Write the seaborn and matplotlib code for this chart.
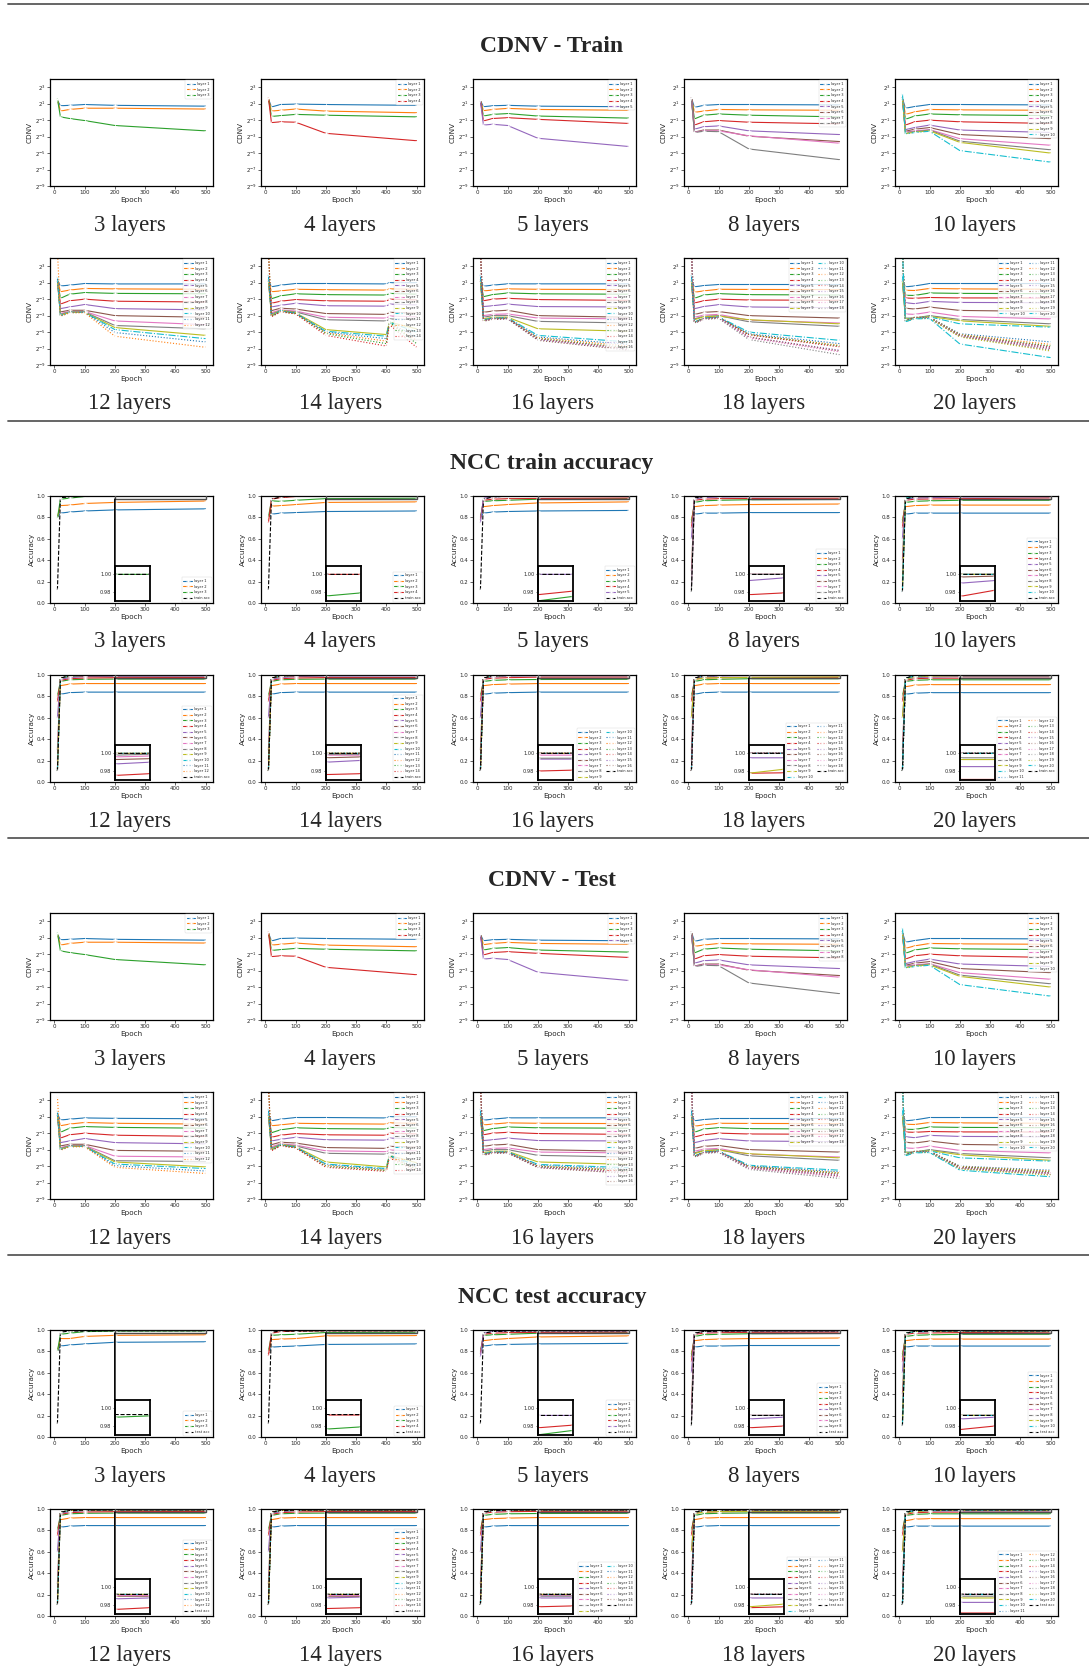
import matplotlib
matplotlib.use("Agg")
import matplotlib.pyplot as plt
import seaborn as sns
from matplotlib.patches import Rectangle, ConnectionPatch
from matplotlib.lines import Line2D
from matplotlib.ticker import FixedLocator, LogFormatterMathtext, NullLocator

# ---------------------------------------------------------------- data
depths = [3, 4, 5, 8, 10, 12, 14, 16, 18, 20]
section_titles = ["CDNV - Train", "NCC train accuracy", "CDNV - Test", "NCC test accuracy"]

epochs = [10, 20, 50, 100, 200, 500]
epochs_14 = [10, 20, 50, 100, 200, 400, 410, 500]

# CDNV values stored as base-2 exponents (value = 2**e), one row per layer
cdnv_train_3 = [[1.4, 0.75, 0.8, 0.9, 0.8, 0.7],
                [1.5, 0.1, 0.3, 0.45, 0.45, 0.35],
                [1.6, -0.6, -0.8, -1.05, -1.65, -2.3]]
cdnv_train_4 = [[1.6, 0.6, 0.9, 0.95, 0.9, 0.8],
                [1.7, 0.1, 0.2, 0.35, 0.1, -0.1],
                [1.7, -0.55, -0.45, -0.3, -0.4, -0.6],
                [1.7, -1.3, -1.2, -1.25, -2.6, -3.5]]
cdnv_train_5 = [[1.4, 0.63, 0.75, 0.8, 0.7, 0.63],
                [1.4, 0.15, 0.3, 0.43, 0.3, 0.2],
                [1.4, -0.5, -0.3, -0.2, -0.5, -0.75],
                [1.4, -1.1, -0.8, -0.7, -0.9, -1.4],
                [1.4, -1.6, -1.5, -1.65, -3.2, -4.2]]
cdnv_train_8 = [[1.7, 0.55, 0.8, 0.9, 0.9, 0.85],
                [1.7, -0.05, 0.1, 0.3, 0.25, 0.2],
                [1.7, -0.85, -0.4, -0.25, -0.4, -0.6],
                [1.7, -1.6, -1.2, -1.05, -1.25, -1.45],
                [1.7, -2.1, -1.8, -1.7, -2.3, -2.75],
                [1.7, -2.45, -2.2, -2.2, -2.95, -3.6],
                [1.7, -2.45, -2.3, -2.3, -2.9, -3.8],
                [1.7, -2.5, -2.35, -2.4, -4.5, -5.8]]
cdnv_train_10 = [[1.65, 0.45, 0.65, 0.9, 0.9, 0.85],
                 [1.7, -0.3, 0.0, 0.3, 0.25, 0.2],
                 [1.7, -0.9, -0.5, -0.25, -0.35, -0.45],
                 [1.7, -1.6, -1.2, -1.0, -1.2, -1.4],
                 [1.7, -2.15, -1.9, -1.6, -2.2, -2.5],
                 [1.7, -2.35, -2.1, -1.9, -2.75, -3.25],
                 [1.7, -2.45, -2.3, -2.15, -3.25, -4.05],
                 [1.7, -2.5, -2.4, -2.2, -3.55, -4.6],
                 [1.7, -2.65, -2.45, -2.3, -3.7, -5.0],
                 [2.25, -2.7, -2.5, -2.35, -4.7, -6.1]]
cdnv_train_12 = [[1.3, 0.6, 0.7, 0.9, 0.85, 0.85],
                 [1.3, -0.1, 0.1, 0.3, 0.25, 0.2],
                 [1.3, -0.9, -0.4, -0.2, -0.3, -0.35],
                 [1.3, -1.6, -1.2, -1.0, -1.25, -1.35],
                 [1.3, -2.15, -1.95, -1.65, -2.15, -2.3],
                 [1.3, -2.55, -2.35, -2.35, -3.0, -3.2],
                 [1.3, -2.75, -2.5, -2.5, -3.65, -4.1],
                 [1.3, -2.85, -2.55, -2.55, -4.2, -4.6],
                 [1.3, -2.95, -2.6, -2.6, -4.45, -5.4],
                 [1.8, -3.0, -2.6, -2.6, -4.7, -5.8],
                 [1.8, -3.05, -2.65, -2.6, -5.05, -6.2],
                 [5.0, -3.1, -2.65, -2.65, -5.5, -6.85]]
cdnv_train_14 = [[1.3, 0.5, 0.7, 0.9, 0.9, 0.85, 1.0, 1.0],
                 [1.3, -0.1, 0.0, 0.2, 0.15, 0.1, 0.25, 0.2],
                 [1.3, -0.95, -0.6, -0.35, -0.45, -0.5, -0.3, -0.4],
                 [1.3, -1.5, -1.25, -1.05, -1.2, -1.25, -1.0, -1.1],
                 [1.3, -1.95, -1.75, -1.5, -1.8, -1.85, -1.6, -1.7],
                 [1.3, -2.4, -2.1, -2.2, -2.75, -2.85, -2.6, -2.7],
                 [1.3, -2.65, -2.3, -2.45, -3.2, -3.3, -3.05, -3.15],
                 [1.3, -2.8, -2.4, -2.55, -3.5, -3.65, -3.4, -3.5],
                 [1.3, -2.95, -2.35, -2.65, -4.7, -5.3, -3.8, -4.6],
                 [2.0, -3.0, -2.4, -2.7, -4.9, -5.5, -3.8, -5.0],
                 [2.0, -3.05, -2.45, -2.7, -5.0, -5.8, -3.9, -5.6],
                 [5.0, -3.1, -2.5, -2.75, -5.1, -6.1, -4.0, -6.0],
                 [5.0, -3.1, -2.5, -2.75, -5.2, -6.4, -3.8, -6.4],
                 [5.0, -3.15, -2.55, -2.8, -5.4, -6.7, -4.1, -6.85]]
cdnv_train_16 = [[1.3, 0.57, 0.7, 0.86, 0.86, 0.86],
                 [1.3, 0.0, 0.1, 0.25, 0.2, 0.16],
                 [1.3, -0.7, -0.45, -0.25, -0.35, -0.4],
                 [1.3, -1.2, -1.0, -0.9, -1.05, -1.15],
                 [1.3, -1.9, -1.8, -1.6, -1.9, -1.95],
                 [1.3, -2.6, -2.45, -2.35, -3.0, -3.2],
                 [1.3, -3.0, -2.85, -2.8, -3.3, -3.4],
                 [1.3, -3.2, -3.0, -3.0, -3.7, -3.9],
                 [1.3, -3.4, -3.2, -3.2, -4.6, -4.9],
                 [2.0, -3.5, -3.3, -3.25, -5.4, -6.2],
                 [2.0, -3.55, -3.3, -3.3, -5.6, -6.5],
                 [5.0, -3.6, -3.35, -3.3, -5.7, -6.7],
                 [5.0, -3.6, -3.35, -3.35, -5.8, -6.9],
                 [5.0, -3.65, -3.4, -3.35, -5.85, -7.0],
                 [5.0, -3.65, -3.4, -3.4, -5.9, -7.1],
                 [5.0, -3.7, -3.45, -3.4, -6.0, -7.2]]
cdnv_train_18 = [[1.3, 0.5, 0.65, 0.78, 0.78, 0.78],
                 [1.3, -0.16, 0.0, 0.2, 0.18, 0.16],
                 [1.3, -0.9, -0.5, -0.33, -0.45, -0.5],
                 [1.3, -1.47, -1.2, -1.0, -1.1, -1.14],
                 [1.3, -2.16, -1.9, -1.67, -1.95, -2.04],
                 [1.3, -2.86, -2.6, -2.5, -3.0, -3.3],
                 [1.3, -3.2, -2.95, -2.85, -3.55, -3.9],
                 [1.3, -3.4, -3.1, -3.0, -3.75, -4.3],
                 [1.3, -3.5, -3.15, -3.05, -3.5, -4.0],
                 [2.0, -3.8, -3.3, -3.15, -5.0, -6.0],
                 [2.0, -3.8, -3.3, -3.2, -5.2, -6.4],
                 [5.0, -3.85, -3.35, -3.2, -5.3, -6.6],
                 [5.0, -3.85, -3.35, -3.2, -5.3, -6.7],
                 [5.0, -3.9, -3.35, -3.25, -5.35, -6.8],
                 [5.0, -3.9, -3.4, -3.25, -5.6, -7.2],
                 [5.0, -3.9, -3.4, -3.3, -5.6, -7.3],
                 [5.0, -3.95, -3.45, -3.3, -5.7, -7.4],
                 [5.0, -3.95, -3.45, -3.35, -5.9, -7.75]]
cdnv_train_20 = [[1.3, 0.5, 0.6, 0.9, 0.9, 0.9],
                 [1.3, 0.08, 0.05, 0.3, 0.25, 0.2],
                 [1.3, -0.53, -0.55, -0.25, -0.3, -0.33],
                 [1.3, -0.86, -0.9, -0.8, -0.85, -0.86],
                 [1.3, -1.43, -1.55, -1.27, -1.4, -1.43],
                 [1.3, -2.1, -2.2, -1.96, -2.37, -2.5],
                 [1.3, -2.8, -2.85, -2.57, -3.1, -3.4],
                 [1.3, -3.3, -3.3, -3.0, -3.47, -4.0],
                 [1.3, -3.4, -3.3, -3.1, -3.63, -4.3],
                 [2.0, -3.5, -3.3, -3.15, -4.0, -4.4],
                 [5.0, -3.6, -3.2, -3.2, -5.2, -6.2],
                 [5.0, -3.6, -3.2, -3.2, -5.3, -6.5],
                 [5.0, -3.6, -3.25, -3.2, -5.35, -6.7],
                 [5.0, -3.65, -3.25, -3.25, -5.4, -6.8],
                 [5.0, -3.65, -3.3, -3.25, -5.45, -6.9],
                 [5.0, -3.65, -3.3, -3.3, -5.5, -7.0],
                 [5.0, -3.7, -3.3, -3.3, -5.5, -7.1],
                 [5.0, -3.7, -3.35, -3.3, -5.55, -7.2],
                 [5.0, -3.7, -3.35, -3.35, -5.6, -7.3],
                 [5.0, -3.75, -3.4, -3.35, -6.45, -8.1]]

# test CDNV: the shallow nets read the same as the train curves
cdnv_test_3 = cdnv_train_3
cdnv_test_4 = cdnv_train_4
cdnv_test_5 = cdnv_train_5
cdnv_test_8 = cdnv_train_8
cdnv_test_10 = cdnv_train_10
cdnv_test_12 = [[1.3, 0.6, 0.7, 0.85, 0.8, 0.75],
                [1.3, -0.1, 0.1, 0.3, 0.2, 0.1],
                [1.3, -0.9, -0.4, -0.2, -0.3, -0.4],
                [1.3, -1.6, -1.2, -1.0, -1.25, -1.4],
                [1.3, -2.15, -1.95, -1.65, -2.15, -2.3],
                [1.3, -2.55, -2.35, -2.35, -3.1, -3.2],
                [1.3, -2.75, -2.5, -2.5, -3.8, -3.9],
                [1.3, -2.85, -2.55, -2.55, -4.35, -4.45],
                [1.3, -2.95, -2.6, -2.6, -4.5, -5.1],
                [1.8, -3.0, -2.6, -2.6, -4.75, -5.3],
                [1.8, -3.05, -2.65, -2.6, -4.95, -5.6],
                [3.5, -3.1, -2.65, -2.65, -5.15, -5.9]]
cdnv_test_14 = [[1.3, 0.5, 0.7, 0.9, 0.9, 0.85, 1.0, 1.0],
                [1.3, -0.1, 0.0, 0.2, 0.15, 0.1, 0.25, 0.2],
                [1.3, -0.95, -0.6, -0.35, -0.45, -0.5, -0.3, -0.4],
                [1.3, -1.5, -1.25, -1.05, -1.2, -1.25, -1.0, -1.1],
                [1.3, -1.95, -1.75, -1.5, -1.8, -1.85, -1.6, -1.7],
                [1.3, -2.4, -2.1, -2.2, -2.75, -2.85, -2.6, -2.7],
                [1.3, -2.65, -2.3, -2.45, -3.15, -3.25, -3.05, -3.15],
                [1.3, -2.8, -2.4, -2.55, -3.45, -3.55, -3.4, -3.5],
                [1.3, -2.95, -2.35, -2.65, -4.5, -5.1, -3.7, -4.6],
                [2.0, -3.0, -2.4, -2.7, -4.75, -5.3, -3.7, -4.9],
                [2.0, -3.05, -2.45, -2.7, -4.85, -5.4, -3.8, -5.1],
                [5.0, -3.1, -2.5, -2.75, -4.95, -5.5, -3.9, -5.3],
                [5.0, -3.1, -2.5, -2.75, -5.05, -5.55, -3.7, -5.4],
                [5.0, -3.15, -2.55, -2.8, -5.15, -5.65, -4.0, -5.6]]
cdnv_test_16 = [[1.3, 0.57, 0.7, 0.86, 0.86, 0.86],
                [1.3, 0.0, 0.1, 0.25, 0.2, 0.16],
                [1.3, -0.7, -0.45, -0.25, -0.35, -0.4],
                [1.3, -1.2, -1.0, -0.9, -1.05, -1.15],
                [1.3, -1.9, -1.8, -1.6, -1.9, -1.95],
                [1.3, -2.6, -2.45, -2.35, -3.0, -3.2],
                [1.3, -3.0, -2.85, -2.8, -3.3, -3.4],
                [1.3, -3.2, -3.0, -3.0, -3.7, -3.9],
                [1.3, -3.4, -3.2, -3.2, -4.5, -4.8],
                [2.0, -3.5, -3.3, -3.25, -4.8, -5.2],
                [2.0, -3.55, -3.3, -3.3, -4.9, -5.4],
                [5.0, -3.6, -3.35, -3.3, -5.0, -5.5],
                [5.0, -3.6, -3.35, -3.35, -5.05, -5.6],
                [5.0, -3.65, -3.4, -3.35, -5.1, -5.7],
                [5.0, -3.65, -3.4, -3.4, -5.15, -5.8],
                [5.0, -3.7, -3.45, -3.4, -5.2, -5.9]]
cdnv_test_18 = [[1.3, 0.5, 0.65, 0.78, 0.78, 0.78],
                [1.3, -0.16, 0.0, 0.2, 0.18, 0.16],
                [1.3, -0.9, -0.5, -0.33, -0.45, -0.5],
                [1.3, -1.47, -1.2, -1.0, -1.1, -1.14],
                [1.3, -2.16, -1.9, -1.67, -1.95, -2.04],
                [1.3, -2.86, -2.6, -2.5, -3.0, -3.3],
                [1.3, -3.2, -2.95, -2.85, -3.55, -3.9],
                [1.3, -3.4, -3.1, -3.0, -3.75, -4.3],
                [1.3, -3.5, -3.15, -3.05, -3.5, -4.0],
                [2.0, -3.8, -3.3, -3.15, -4.9, -5.5],
                [2.0, -3.8, -3.3, -3.2, -5.0, -5.7],
                [5.0, -3.85, -3.35, -3.2, -5.05, -5.8],
                [5.0, -3.85, -3.35, -3.2, -5.1, -5.9],
                [5.0, -3.9, -3.35, -3.25, -5.15, -6.0],
                [5.0, -3.9, -3.4, -3.25, -5.2, -6.1],
                [5.0, -3.9, -3.4, -3.3, -5.25, -6.2],
                [5.0, -3.95, -3.45, -3.3, -5.3, -6.3],
                [5.0, -3.95, -3.45, -3.35, -5.4, -6.5]]
cdnv_test_20 = [[1.3, 0.5, 0.6, 0.9, 0.9, 0.9],
                [1.3, 0.08, 0.05, 0.3, 0.25, 0.2],
                [1.3, -0.53, -0.55, -0.25, -0.3, -0.33],
                [1.3, -0.86, -0.9, -0.8, -0.85, -0.86],
                [1.3, -1.43, -1.55, -1.27, -1.4, -1.43],
                [1.3, -2.1, -2.2, -1.96, -2.37, -2.5],
                [1.3, -2.8, -2.85, -2.57, -3.1, -3.4],
                [1.3, -3.3, -3.3, -3.0, -3.47, -4.0],
                [1.3, -3.4, -3.3, -3.1, -3.63, -4.3],
                [2.0, -3.5, -3.3, -3.15, -4.0, -4.4],
                [5.0, -3.6, -3.2, -3.2, -5.0, -5.5],
                [5.0, -3.6, -3.2, -3.2, -5.05, -5.6],
                [5.0, -3.6, -3.25, -3.2, -5.1, -5.7],
                [5.0, -3.65, -3.25, -3.25, -5.15, -5.8],
                [5.0, -3.65, -3.3, -3.25, -5.2, -5.85],
                [5.0, -3.65, -3.3, -3.3, -5.25, -5.9],
                [5.0, -3.7, -3.3, -3.3, -5.3, -6.0],
                [5.0, -3.7, -3.35, -3.3, -5.3, -6.05],
                [5.0, -3.7, -3.35, -3.35, -5.35, -6.1],
                [5.0, -3.75, -3.4, -3.35, -5.5, -6.3]]

# NCC accuracy, one row per layer, plus the network's own accuracy
acc_train_3 = [[0.8, 0.84, 0.85, 0.86, 0.87, 0.88],
               [0.8, 0.91, 0.915, 0.93, 0.94, 0.953],
               [0.79, 0.97, 0.98, 0.995, 1.0, 1.0]]
net_train_3 = [0.12, 0.985, 0.99, 1.0, 1.0, 1.0]
acc_train_4 = [[0.8, 0.83, 0.84, 0.845, 0.855, 0.86],
               [0.78, 0.905, 0.91, 0.92, 0.94, 0.945],
               [0.8, 0.955, 0.95, 0.96, 0.9755, 0.979],
               [0.75, 0.97, 0.985, 0.995, 1.0, 1.0]]
net_train_4 = [0.12, 0.97, 0.99, 1.0, 1.0, 1.0]
acc_train_5 = [[0.8, 0.84, 0.85, 0.855, 0.86, 0.865],
               [0.8, 0.9, 0.91, 0.92, 0.935, 0.945],
               [0.8, 0.95, 0.955, 0.96, 0.97, 0.975],
               [0.78, 0.96, 0.97, 0.975, 0.977, 0.981],
               [0.75, 0.98, 0.99, 1.0, 1.0, 1.0]]
net_train_5 = [0.12, 0.97, 0.99, 1.0, 1.0, 1.0]
acc_train_8 = [[0.78, 0.83, 0.84, 0.84, 0.845, 0.845],
               [0.78, 0.9, 0.91, 0.915, 0.92, 0.925],
               [0.75, 0.94, 0.955, 0.96, 0.965, 0.968],
               [0.7, 0.96, 0.97, 0.975, 0.977, 0.979],
               [0.6, 0.97, 0.985, 0.99, 0.993, 0.996],
               [0.3, 0.98, 0.995, 1.0, 1.0, 1.0],
               [0.15, 0.98, 0.995, 1.0, 1.0, 1.0],
               [0.12, 0.98, 0.995, 1.0, 1.0, 1.0]]
net_train_8 = [0.1, 0.98, 0.995, 1.0, 1.0, 1.0]
acc_train_10 = [[0.78, 0.83, 0.84, 0.84, 0.84, 0.84],
                [0.78, 0.9, 0.91, 0.915, 0.915, 0.915],
                [0.75, 0.94, 0.95, 0.955, 0.96, 0.96],
                [0.7, 0.96, 0.97, 0.972, 0.975, 0.982],
                [0.6, 0.97, 0.98, 0.985, 0.99, 0.993],
                [0.4, 0.98, 0.99, 0.995, 0.997, 0.998],
                [0.2, 0.98, 0.995, 1.0, 1.0, 1.0],
                [0.15, 0.98, 0.995, 1.0, 1.0, 1.0],
                [0.12, 0.98, 0.995, 1.0, 1.0, 1.0],
                [0.1, 0.98, 0.995, 1.0, 1.0, 1.0]]
net_train_10 = [0.1, 0.97, 0.995, 1.0, 1.0, 1.0]
acc_train_12 = [[0.78, 0.82, 0.835, 0.84, 0.84, 0.84],
                [0.8, 0.9, 0.915, 0.92, 0.92, 0.92],
                [0.8, 0.94, 0.955, 0.96, 0.962, 0.962],
                [0.75, 0.95, 0.965, 0.972, 0.975, 0.977],
                [0.6, 0.96, 0.975, 0.985, 0.988, 0.99],
                [0.3, 0.97, 0.985, 0.99, 0.993, 0.994],
                [0.2, 0.97, 0.99, 0.995, 0.996, 0.997],
                [0.12, 0.97, 0.99, 0.997, 0.998, 0.999],
                [0.1, 0.97, 0.99, 0.998, 1.0, 1.0],
                [0.1, 0.97, 0.99, 0.998, 1.0, 1.0],
                [0.1, 0.97, 0.99, 0.998, 1.0, 1.0],
                [0.1, 0.97, 0.99, 0.998, 1.0, 1.0]]
net_train_12 = [0.1, 0.97, 0.995, 1.0, 1.0, 1.0]
acc_train_14 = [[0.78, 0.82, 0.835, 0.84, 0.84, 0.84],
                [0.8, 0.9, 0.915, 0.92, 0.92, 0.92],
                [0.8, 0.94, 0.955, 0.96, 0.962, 0.962],
                [0.75, 0.95, 0.965, 0.972, 0.976, 0.977],
                [0.6, 0.96, 0.975, 0.985, 0.99, 0.992],
                [0.3, 0.97, 0.985, 0.99, 0.995, 0.996],
                [0.2, 0.97, 0.99, 0.995, 0.998, 0.998],
                [0.12, 0.97, 0.99, 0.997, 0.999, 0.999],
                [0.1, 0.97, 0.99, 0.998, 1.0, 1.0],
                [0.1, 0.97, 0.99, 0.998, 1.0, 1.0],
                [0.1, 0.97, 0.99, 0.998, 1.0, 1.0],
                [0.1, 0.97, 0.99, 0.998, 1.0, 1.0],
                [0.1, 0.97, 0.99, 0.998, 1.0, 1.0],
                [0.1, 0.97, 0.99, 0.998, 1.0, 1.0]]
net_train_14 = [0.1, 0.97, 0.995, 1.0, 1.0, 1.0]
acc_train_16 = [[0.78, 0.82, 0.83, 0.835, 0.84, 0.84],
                [0.8, 0.9, 0.91, 0.915, 0.92, 0.92],
                [0.8, 0.94, 0.95, 0.955, 0.958, 0.96],
                [0.75, 0.96, 0.97, 0.975, 0.98, 0.981],
                [0.6, 0.97, 0.98, 0.99, 0.9935, 0.9935],
                [0.3, 0.97, 0.99, 0.998, 1.0, 1.0],
                [0.2, 0.97, 0.99, 0.995, 0.998, 0.998],
                [0.12, 0.97, 0.99, 0.993, 0.9945, 0.9945],
                [0.1, 0.97, 0.99, 0.998, 1.0, 1.0],
                [0.1, 0.97, 0.99, 0.998, 1.0, 1.0],
                [0.1, 0.97, 0.99, 0.998, 1.0, 1.0],
                [0.1, 0.97, 0.99, 0.998, 1.0, 1.0],
                [0.1, 0.97, 0.99, 0.998, 1.0, 1.0],
                [0.1, 0.97, 0.99, 0.998, 1.0, 1.0],
                [0.1, 0.97, 0.99, 0.998, 1.0, 1.0],
                [0.1, 0.97, 0.99, 0.998, 1.0, 1.0]]
net_train_16 = [0.1, 0.97, 0.995, 1.0, 1.0, 1.0]
acc_train_18 = [[0.78, 0.82, 0.835, 0.84, 0.84, 0.84],
                [0.8, 0.9, 0.915, 0.92, 0.92, 0.92],
                [0.8, 0.94, 0.955, 0.96, 0.965, 0.965],
                [0.75, 0.96, 0.97, 0.975, 0.9775, 0.978],
                [0.6, 0.97, 0.98, 0.99, 0.995, 0.995],
                [0.3, 0.97, 0.99, 0.998, 1.0, 1.0],
                [0.2, 0.97, 0.99, 0.998, 1.0, 1.0],
                [0.12, 0.97, 0.99, 0.998, 1.0, 1.0],
                [0.6, 0.96, 0.97, 0.975, 0.9775, 0.982],
                [0.1, 0.97, 0.99, 0.998, 1.0, 1.0],
                [0.1, 0.97, 0.99, 0.998, 1.0, 1.0],
                [0.1, 0.97, 0.99, 0.998, 1.0, 1.0],
                [0.1, 0.97, 0.99, 0.998, 1.0, 1.0],
                [0.1, 0.97, 0.99, 0.998, 1.0, 1.0],
                [0.1, 0.97, 0.99, 0.998, 1.0, 1.0],
                [0.1, 0.97, 0.99, 0.998, 1.0, 1.0],
                [0.1, 0.97, 0.99, 0.998, 1.0, 1.0],
                [0.1, 0.97, 0.99, 0.998, 1.0, 1.0]]
net_train_18 = [0.1, 0.97, 0.995, 1.0, 1.0, 1.0]
acc_train_20 = [[0.78, 0.82, 0.83, 0.835, 0.835, 0.835],
                [0.8, 0.89, 0.905, 0.91, 0.91, 0.91],
                [0.8, 0.94, 0.95, 0.955, 0.955, 0.955],
                [0.75, 0.95, 0.965, 0.97, 0.9705, 0.9705],
                [0.6, 0.96, 0.975, 0.98, 0.985, 0.985],
                [0.3, 0.97, 0.99, 0.998, 1.0, 1.0],
                [0.2, 0.97, 0.99, 0.998, 1.0, 1.0],
                [0.12, 0.97, 0.99, 0.993, 0.995, 0.995],
                [0.6, 0.96, 0.98, 0.99, 0.993, 0.993],
                [0.1, 0.97, 0.99, 0.998, 1.0, 1.0],
                [0.1, 0.97, 0.99, 0.998, 1.0, 1.0],
                [0.1, 0.97, 0.99, 0.998, 1.0, 1.0],
                [0.1, 0.97, 0.99, 0.998, 1.0, 1.0],
                [0.1, 0.97, 0.99, 0.998, 1.0, 1.0],
                [0.1, 0.97, 0.99, 0.998, 1.0, 1.0],
                [0.1, 0.97, 0.99, 0.998, 1.0, 1.0],
                [0.1, 0.97, 0.99, 0.998, 1.0, 1.0],
                [0.1, 0.97, 0.99, 0.998, 1.0, 1.0],
                [0.1, 0.97, 0.99, 0.998, 1.0, 1.0],
                [0.1, 0.97, 0.99, 0.998, 1.0, 1.0]]
net_train_20 = [0.1, 0.97, 0.995, 1.0, 1.0, 1.0]

acc_test_3 = [[0.8, 0.85, 0.86, 0.87, 0.885, 0.89],
              [0.8, 0.92, 0.92, 0.94, 0.95, 0.955],
              [0.8, 0.96, 0.97, 0.985, 0.99, 0.9915]]
net_test_3 = [0.12, 0.98, 0.99, 0.99, 0.993, 0.993]
acc_test_4 = [[0.78, 0.84, 0.845, 0.85, 0.865, 0.87],
              [0.78, 0.91, 0.915, 0.92, 0.945, 0.948],
              [0.8, 0.95, 0.955, 0.96, 0.9765, 0.979],
              [0.76, 0.97, 0.985, 0.99, 0.9925, 0.9925]]
net_test_4 = [0.12, 0.98, 0.99, 0.99, 0.993, 0.993]
acc_test_5 = [[0.8, 0.85, 0.86, 0.865, 0.87, 0.875],
              [0.8, 0.9, 0.91, 0.92, 0.935, 0.945],
              [0.8, 0.95, 0.955, 0.96, 0.97, 0.975],
              [0.78, 0.96, 0.97, 0.975, 0.978, 0.981],
              [0.75, 0.97, 0.985, 0.99, 0.992, 0.992]]
net_test_5 = [0.12, 0.97, 0.985, 0.99, 0.992, 0.992]
acc_test_8 = [[0.78, 0.84, 0.85, 0.85, 0.855, 0.855],
              [0.78, 0.9, 0.91, 0.915, 0.92, 0.925],
              [0.75, 0.94, 0.955, 0.96, 0.965, 0.968],
              [0.7, 0.96, 0.97, 0.975, 0.978, 0.98],
              [0.6, 0.97, 0.98, 0.985, 0.988, 0.99],
              [0.3, 0.97, 0.985, 0.99, 0.992, 0.992],
              [0.15, 0.97, 0.985, 0.99, 0.992, 0.992],
              [0.12, 0.97, 0.985, 0.99, 0.992, 0.992]]
net_test_8 = [0.1, 0.97, 0.985, 0.99, 0.992, 0.992]
acc_test_10 = [[0.78, 0.84, 0.85, 0.85, 0.85, 0.85],
               [0.78, 0.9, 0.91, 0.915, 0.915, 0.915],
               [0.75, 0.94, 0.95, 0.955, 0.96, 0.96],
               [0.7, 0.96, 0.97, 0.972, 0.976, 0.98],
               [0.6, 0.97, 0.98, 0.985, 0.988, 0.99],
               [0.4, 0.97, 0.985, 0.99, 0.992, 0.992],
               [0.2, 0.97, 0.985, 0.99, 0.992, 0.992],
               [0.15, 0.97, 0.985, 0.99, 0.992, 0.992],
               [0.12, 0.97, 0.985, 0.99, 0.992, 0.992],
               [0.1, 0.97, 0.985, 0.99, 0.992, 0.992]]
net_test_10 = [0.1, 0.97, 0.985, 0.99, 0.992, 0.992]
acc_test_12 = [[0.78, 0.83, 0.84, 0.845, 0.845, 0.845],
               [0.8, 0.9, 0.915, 0.92, 0.92, 0.92],
               [0.8, 0.94, 0.955, 0.96, 0.962, 0.962],
               [0.75, 0.95, 0.965, 0.972, 0.975, 0.977],
               [0.6, 0.96, 0.975, 0.985, 0.987, 0.988],
               [0.3, 0.97, 0.98, 0.988, 0.99, 0.99],
               [0.2, 0.97, 0.985, 0.99, 0.991, 0.991],
               [0.12, 0.97, 0.985, 0.99, 0.992, 0.992],
               [0.1, 0.97, 0.985, 0.99, 0.992, 0.992],
               [0.1, 0.97, 0.985, 0.99, 0.992, 0.992],
               [0.1, 0.97, 0.985, 0.99, 0.992, 0.992],
               [0.1, 0.97, 0.985, 0.99, 0.992, 0.992]]
net_test_12 = [0.1, 0.97, 0.985, 0.99, 0.992, 0.992]
acc_test_14 = [[0.78, 0.83, 0.84, 0.845, 0.845, 0.845],
               [0.8, 0.9, 0.915, 0.92, 0.92, 0.92],
               [0.8, 0.94, 0.955, 0.96, 0.962, 0.962],
               [0.75, 0.95, 0.965, 0.972, 0.976, 0.977],
               [0.6, 0.96, 0.975, 0.985, 0.988, 0.989],
               [0.3, 0.97, 0.98, 0.988, 0.99, 0.99],
               [0.2, 0.97, 0.985, 0.99, 0.991, 0.991],
               [0.12, 0.97, 0.985, 0.99, 0.992, 0.992],
               [0.1, 0.97, 0.985, 0.99, 0.992, 0.992],
               [0.1, 0.97, 0.985, 0.99, 0.992, 0.992],
               [0.1, 0.97, 0.985, 0.99, 0.992, 0.992],
               [0.1, 0.97, 0.985, 0.99, 0.992, 0.992],
               [0.1, 0.97, 0.985, 0.99, 0.992, 0.992],
               [0.1, 0.97, 0.985, 0.99, 0.992, 0.992]]
net_test_14 = [0.1, 0.97, 0.985, 0.99, 0.992, 0.992]
acc_test_16 = [[0.78, 0.83, 0.84, 0.845, 0.845, 0.845],
               [0.8, 0.9, 0.91, 0.915, 0.92, 0.92],
               [0.8, 0.94, 0.95, 0.955, 0.958, 0.96],
               [0.75, 0.96, 0.97, 0.975, 0.978, 0.979],
               [0.6, 0.97, 0.98, 0.985, 0.988, 0.988],
               [0.3, 0.97, 0.985, 0.99, 0.992, 0.992],
               [0.2, 0.97, 0.985, 0.99, 0.991, 0.991],
               [0.12, 0.97, 0.985, 0.99, 0.99, 0.99],
               [0.1, 0.97, 0.985, 0.99, 0.992, 0.992],
               [0.1, 0.97, 0.985, 0.99, 0.992, 0.992],
               [0.1, 0.97, 0.985, 0.99, 0.992, 0.992],
               [0.1, 0.97, 0.985, 0.99, 0.992, 0.992],
               [0.1, 0.97, 0.985, 0.99, 0.992, 0.992],
               [0.1, 0.97, 0.985, 0.99, 0.992, 0.992],
               [0.1, 0.97, 0.985, 0.99, 0.992, 0.992],
               [0.1, 0.97, 0.985, 0.99, 0.992, 0.992]]
net_test_16 = [0.1, 0.97, 0.985, 0.99, 0.992, 0.992]
acc_test_18 = [[0.78, 0.83, 0.84, 0.845, 0.845, 0.845],
               [0.8, 0.9, 0.915, 0.92, 0.92, 0.92],
               [0.8, 0.94, 0.955, 0.96, 0.963, 0.963],
               [0.75, 0.96, 0.97, 0.975, 0.977, 0.978],
               [0.6, 0.97, 0.98, 0.985, 0.988, 0.988],
               [0.3, 0.97, 0.985, 0.99, 0.992, 0.992],
               [0.2, 0.97, 0.985, 0.99, 0.992, 0.992],
               [0.12, 0.97, 0.985, 0.99, 0.992, 0.992],
               [0.6, 0.96, 0.97, 0.975, 0.978, 0.981],
               [0.1, 0.97, 0.985, 0.99, 0.992, 0.992],
               [0.1, 0.97, 0.985, 0.99, 0.992, 0.992],
               [0.1, 0.97, 0.985, 0.99, 0.992, 0.992],
               [0.1, 0.97, 0.985, 0.99, 0.992, 0.992],
               [0.1, 0.97, 0.985, 0.99, 0.992, 0.992],
               [0.1, 0.97, 0.985, 0.99, 0.992, 0.992],
               [0.1, 0.97, 0.985, 0.99, 0.992, 0.992],
               [0.1, 0.97, 0.985, 0.99, 0.992, 0.992],
               [0.1, 0.97, 0.985, 0.99, 0.992, 0.992]]
net_test_18 = [0.1, 0.97, 0.985, 0.99, 0.992, 0.992]
acc_test_20 = [[0.78, 0.83, 0.84, 0.84, 0.84, 0.84],
               [0.8, 0.89, 0.905, 0.91, 0.91, 0.91],
               [0.8, 0.94, 0.95, 0.955, 0.955, 0.955],
               [0.75, 0.95, 0.965, 0.97, 0.971, 0.971],
               [0.6, 0.96, 0.975, 0.98, 0.983, 0.983],
               [0.3, 0.97, 0.985, 0.99, 0.992, 0.992],
               [0.2, 0.97, 0.985, 0.99, 0.992, 0.992],
               [0.12, 0.97, 0.985, 0.99, 0.99, 0.99],
               [0.6, 0.96, 0.975, 0.985, 0.988, 0.988],
               [0.1, 0.97, 0.985, 0.99, 0.992, 0.992],
               [0.1, 0.97, 0.985, 0.99, 0.992, 0.992],
               [0.1, 0.97, 0.985, 0.99, 0.992, 0.992],
               [0.1, 0.97, 0.985, 0.99, 0.992, 0.992],
               [0.1, 0.97, 0.985, 0.99, 0.992, 0.992],
               [0.1, 0.97, 0.985, 0.99, 0.992, 0.992],
               [0.1, 0.97, 0.985, 0.99, 0.992, 0.992],
               [0.1, 0.97, 0.985, 0.99, 0.992, 0.992],
               [0.1, 0.97, 0.985, 0.99, 0.992, 0.992],
               [0.1, 0.97, 0.985, 0.99, 0.992, 0.992],
               [0.1, 0.97, 0.985, 0.99, 0.992, 0.992]]
net_test_20 = [0.1, 0.97, 0.985, 0.99, 0.992, 0.992]

cdnv_train = [cdnv_train_3, cdnv_train_4, cdnv_train_5, cdnv_train_8, cdnv_train_10,
              cdnv_train_12, cdnv_train_14, cdnv_train_16, cdnv_train_18, cdnv_train_20]
cdnv_test = [cdnv_test_3, cdnv_test_4, cdnv_test_5, cdnv_test_8, cdnv_test_10,
             cdnv_test_12, cdnv_test_14, cdnv_test_16, cdnv_test_18, cdnv_test_20]
acc_train = [acc_train_3, acc_train_4, acc_train_5, acc_train_8, acc_train_10,
             acc_train_12, acc_train_14, acc_train_16, acc_train_18, acc_train_20]
net_train = [net_train_3, net_train_4, net_train_5, net_train_8, net_train_10,
             net_train_12, net_train_14, net_train_16, net_train_18, net_train_20]
acc_test = [acc_test_3, acc_test_4, acc_test_5, acc_test_8, acc_test_10,
            acc_test_12, acc_test_14, acc_test_16, acc_test_18, acc_test_20]
net_test = [net_test_3, net_test_4, net_test_5, net_test_8, net_test_10,
            net_test_12, net_test_14, net_test_16, net_test_18, net_test_20]

# ---------------------------------------------------------------- style
sns.set_theme(style="ticks")
plt.rcParams["font.family"] = ["DejaVu Sans"]
plt.rcParams["axes.edgecolor"] = "black"
plt.rcParams["axes.linewidth"] = 0.9
palette = sns.color_palette("tab10", 10)
SERIF = ["Liberation Serif", "DejaVu Serif"]

W, H = 1089, 1669
fig = plt.figure(figsize=(W / 100, H / 100), dpi=100)

col_left = [50, 261, 473, 684, 895]
AX_W, AX_H = 163, 107
sec_top = [79, 496, 913, 1330]
ROW_STEP = 179


def line_style(i):
    if i < 9:
        return "-"
    return "-." if i % 10 == 9 else ":"


def add_ax(x, y):
    return fig.add_axes([x / W, 1 - (y + AX_H) / H, AX_W / W, AX_H / H])


def finish_axes(ax):
    ax.tick_params(labelsize=4, length=2, width=0.5, pad=1.2)
    ax.set_xlabel("Epoch", fontsize=5.2, labelpad=0.8)
    ax.set_xticks([0, 100, 200, 300, 400, 500])
    ax.set_xlim(-14.5, 524.5)
    for s in ax.spines.values():
        s.set_visible(True)
        s.set_color("black")
        s.set_linewidth(0.9)


def legend(ax, loc, ncol):
    lg = ax.legend(loc=loc, ncol=ncol, fontsize=2.6, handlelength=2.4, borderpad=0.45,
                   labelspacing=0.45, handletextpad=0.6, columnspacing=1.2,
                   frameon=True, fancybox=True, borderaxespad=0.4)
    lg.get_frame().set_linewidth(0.3)
    lg.get_frame().set_edgecolor("0.8")


def draw_cdnv(ax, rows, depth):
    ep = epochs_14 if depth == 14 else epochs
    ax.set_yscale("log", base=2)
    for i, row in enumerate(rows):
        sns.lineplot(x=ep, y=[2.0 ** v for v in row], ax=ax, color=palette[i % 10],
                     linestyle=line_style(i), linewidth=0.8, marker="+", markersize=2.5,
                     markeredgewidth=0.5, label=f"layer {i + 1}", estimator=None)
    ax.set_ylim(2.0 ** -9, 2.0 ** 4)
    ax.yaxis.set_major_locator(FixedLocator([2.0 ** k for k in (3, 1, -1, -3, -5, -7, -9)]))
    ax.yaxis.set_major_formatter(LogFormatterMathtext(base=2))
    ax.yaxis.set_minor_locator(NullLocator())
    ax.set_ylabel("CDNV", fontsize=5.2, labelpad=1.5)
    finish_axes(ax)
    legend(ax, "upper right", 2 if depth >= 18 else 1)


def draw_acc(ax, rows, net, net_label, depth):
    axins = ax.inset_axes([200, 0.02, 115, 0.33], transform=ax.transData)
    for target in (ax, axins):
        for i, row in enumerate(rows):
            sns.lineplot(x=epochs, y=row, ax=target, color=palette[i % 10],
                         linestyle=line_style(i), linewidth=0.8, marker="+", markersize=2.5,
                         markeredgewidth=0.5, label=f"layer {i + 1}", estimator=None,
                         legend=False)
        sns.lineplot(x=epochs, y=net, ax=target, color="black", linestyle="--",
                     linewidth=0.8, marker="+", markersize=2.5, markeredgewidth=0.5,
                     label=net_label, estimator=None, legend=False)
    ax.set_ylim(0.0, 1.0)
    ax.set_yticks([0.0, 0.2, 0.4, 0.6, 0.8, 1.0])
    ax.set_yticklabels(["0.0", "0.2", "0.4", "0.6", "0.8", "1.0"])
    ax.set_ylabel("Accuracy", fontsize=5.2, labelpad=1.5)
    finish_axes(ax)
    in_x = (200, 500)
    in_y = (0.97, 1.01)
    axins.set_xlim(*in_x)
    axins.set_ylim(*in_y)
    axins.set_xticks([])
    axins.set_yticks([0.98, 1.00])
    axins.set_yticklabels(["0.98", "1.00"])
    axins.set_xlabel("")
    axins.set_ylabel("")
    axins.tick_params(labelsize=3.6, length=1.5, width=0.5, pad=1)
    for s in axins.spines.values():
        s.set_color("black")
        s.set_linewidth(1.3)
    ax.add_patch(Rectangle((in_x[0], in_y[0]), in_x[1] - in_x[0], in_y[1] - in_y[0],
                           fill=False, edgecolor="0.3", linewidth=1.0, zorder=5))
    con = ConnectionPatch(xyA=(in_x[0], in_y[0]), coordsA=ax.transData,
                          xyB=(0, 0), coordsB=axins.transAxes,
                          color="black", linewidth=1.2, zorder=6)
    ax.add_artist(con)
    handles, labels = ax.get_legend_handles_labels()
    lg = ax.legend(handles, labels, loc="lower right", ncol=2 if depth >= 16 else 1,
                   fontsize=2.6, handlelength=2.4, borderpad=0.45, labelspacing=0.45,
                   handletextpad=0.6, columnspacing=1.2, frameon=True, fancybox=True,
                   borderaxespad=0.4)
    lg.get_frame().set_linewidth(0.3)
    lg.get_frame().set_edgecolor("0.8")


# ---------------------------------------------------------------- layout
for s, title in enumerate(section_titles):
    fig.text(552 / W, 1 - (sec_top[s] - 33) / H, title, ha="center", va="center",
             fontsize=17, fontweight="bold", family=SERIF)
    for k, d in enumerate(depths):
        r, c = divmod(k, 5)
        top = sec_top[s] + r * ROW_STEP
        ax = add_ax(col_left[c], top)
        if s == 0:
            draw_cdnv(ax, cdnv_train[k], d)
        elif s == 2:
            draw_cdnv(ax, cdnv_test[k], d)
        elif s == 1:
            draw_acc(ax, acc_train[k], net_train[k], "train acc", d)
        else:
            draw_acc(ax, acc_test[k], net_test[k], "test acc", d)
        fig.text((col_left[c] + AX_W / 2 - 2) / W, 1 - (top + 146) / H, f"{d} layers",
                 ha="center", va="center", fontsize=16.5, family=SERIF)

for y in (4, 421, 838, 1255):
    fig.add_artist(Line2D([8 / W, 1.0], [1 - y / H, 1 - y / H], color="0.35",
                          linewidth=1.3, transform=fig.transFigure))

fig.savefig("out.png", dpi=100)
